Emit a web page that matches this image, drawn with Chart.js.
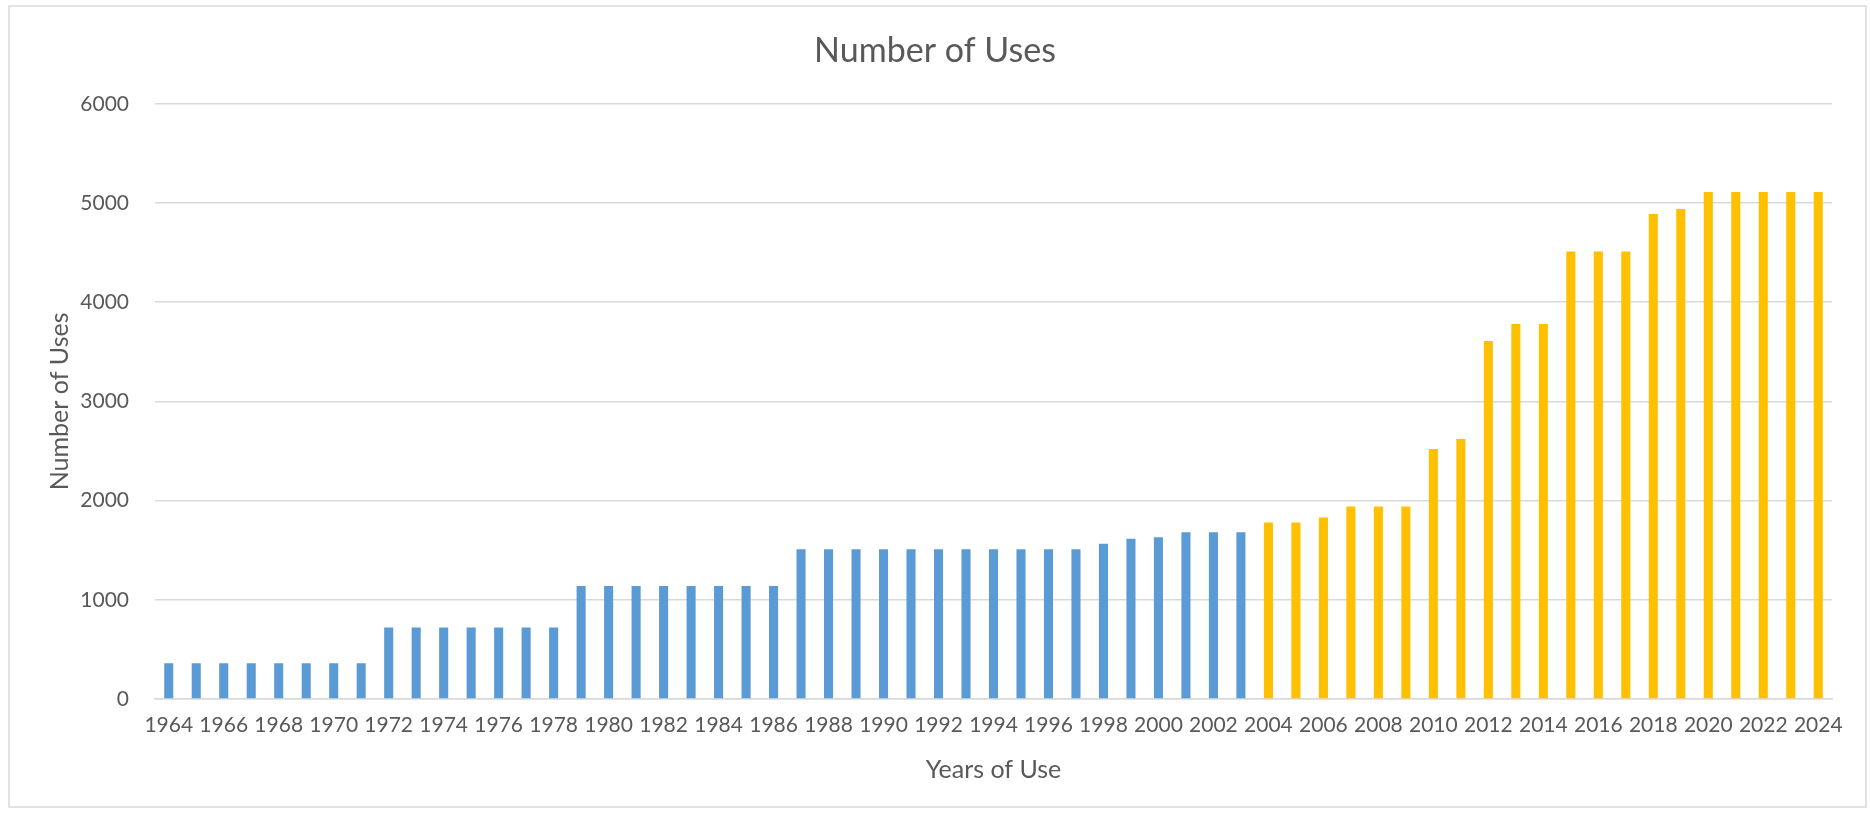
<!DOCTYPE html>
<html>
<head>
<meta charset="utf-8">
<script src="https://cdn.jsdelivr.net/npm/chart.js@4"></script>
<style>
  html, body { margin: 0; padding: 0; background: #fff; }
  #wrap { width: 1870px; height: 814px; }
</style>
</head>
<body>
<div id="wrap"><canvas id="usesChart" width="1870" height="814"></canvas></div>
<script>
// years 1964..2024
const years = ["1964","1965","1966","1967","1968","1969","1970","1971","1972","1973",
  "1974","1975","1976","1977","1978","1979","1980","1981","1982","1983",
  "1984","1985","1986","1987","1988","1989","1990","1991","1992","1993",
  "1994","1995","1996","1997","1998","1999","2000","2001","2002","2003",
  "2004","2005","2006","2007","2008","2009","2010","2011","2012","2013",
  "2014","2015","2016","2017","2018","2019","2020","2021","2022","2023","2024"]
const uses = [360,360,360,360,360,360,360,360,720,720,
  720,720,720,720,720,1140,1140,1140,1140,1140,
  1140,1140,1140,1510,1510,1510,1510,1510,1510,1510,
  1510,1510,1510,1510,1565,1615,1630,1680,1680,1680,
  1780,1780,1830,1940,1940,1940,2520,2620,3610,3780,
  3780,4510,4510,4510,4890,4940,5110,5110,5110,5110,5110]
const yTicks = [0,1000,2000,3000,4000,5000,6000]
const highlightFrom = "2004"

const textColor = "#595959"
const font = "Lato, 'Open Sans', sans-serif"
let barColors = years.map(y => Number(y) >= Number(highlightFrom) ? "#FFC000" : "#5B9BD5")

// white background and thin grey frame like the original
const frame = {
    id: "frame",
    beforeDraw(chart) {
        let ctx = chart.ctx
        ctx.save()
        ctx.fillStyle = "#fff"
        ctx.fillRect(0, 0, chart.width, chart.height)
        ctx.strokeStyle = "#d9d9d9"
        ctx.lineWidth = 1.5
        ctx.strokeRect(9, 6, 1857, 801)
        ctx.restore()
    }
}

new Chart(document.getElementById("usesChart"), {
    type: "bar",
    data: {
        labels: years,
        datasets: [{
            label: "Number of Uses",
            data: uses,
            backgroundColor: barColors,
            barPercentage: 0.33,
            categoryPercentage: 1.0
        }]
    },
    options: {
        responsive: false,
        animation: false,
        layout: { padding: 0 },
        plugins: {
            legend: { display: false },
            tooltip: { enabled: false },
            title: {
                display: true,
                text: "Number of Uses",
                color: textColor,
                font: { family: font, size: 34, weight: "normal" },
                padding: { top: 31, bottom: 32 }
            }
        },
        scales: {
            x: {
                grid: { display: false, drawTicks: false },
                border: { display: true, color: "#d9d9d9", width: 1.5 },
                ticks: {
                    color: textColor,
                    font: { family: font, size: 21 },
                    autoSkip: false,
                    maxRotation: 0,
                    padding: 14,
                    callback: function(val, i) { return i % 2 == 0 ? years[i] : "" }
                },
                title: {
                    display: true,
                    text: "Years of Use",
                    color: textColor,
                    font: { family: font, size: 25 },
                    padding: { top: 0, bottom: 29 }
                },
                afterFit: s => { s.height = 115 }
            },
            y: {
                min: yTicks[0],
                max: yTicks[yTicks.length - 1],
                afterBuildTicks: s => { s.ticks = yTicks.map(v => ({ value: v })) },
                grid: { color: "#d9d9d9", lineWidth: 1.5, drawTicks: false },
                border: { display: false },
                ticks: {
                    color: textColor,
                    font: { family: font, size: 21 },
                    padding: 26,
                    callback: v => String(v)
                },
                title: {
                    display: true,
                    text: "Number of Uses",
                    color: textColor,
                    font: { family: font, size: 25 },
                    padding: { top: 45, bottom: 0 }
                },
                afterFit: s => { s.width = 155 }
            },
            // empty right-hand spacer so the plot stops where the original does
            spacer: {
                type: "linear",
                position: "right",
                grid: { display: false },
                border: { display: false },
                ticks: { display: false },
                afterFit: s => { s.width = 38 }
            }
        }
    },
    plugins: [frame]
})
</script>
</body>
</html>
